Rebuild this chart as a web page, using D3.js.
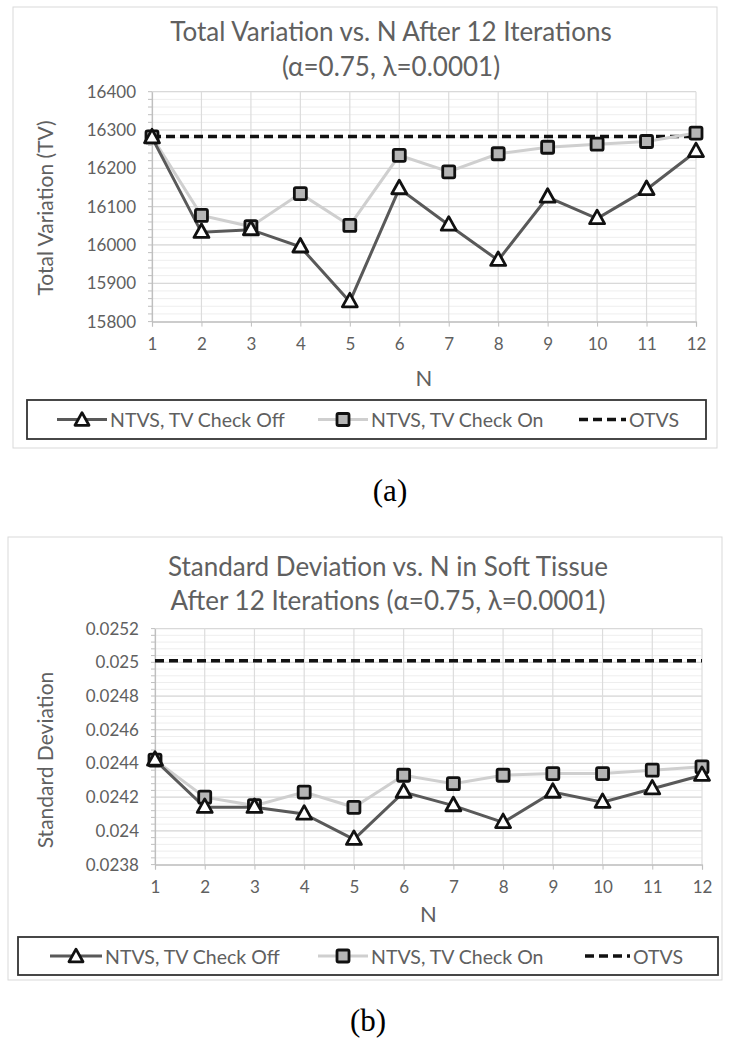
<!DOCTYPE html>
<html><head><meta charset="utf-8">
<script src="https://cdn.jsdelivr.net/npm/d3@7"></script>
<style>body{margin:0;background:#fff}svg{display:block}</style>
</head><body><svg id="c" width="734" height="1050"></svg>
<script>
const nValues = [1,2,3,4,5,6,7,8,9,10,11,12];
const tvCheckOff = [16280,16033,16040,15995,15852,16147,16052,15960,16125,16069,16145,16244];
const tvCheckOn  = [16282,16077,16048,16134,16051,16234,16191,16238,16255,16263,16270,16292];
const tvOTVS = 16283;
const tvTicks = [15800,15900,16000,16100,16200,16300,16400];
const sdCheckOff = [0.02442,0.02414,0.02414,0.02410,0.02395,0.02423,0.02415,0.02405,0.02423,0.02417,0.02425,0.02433];
const sdCheckOn  = [0.02442,0.02420,0.02415,0.02423,0.02414,0.02433,0.02428,0.02433,0.02434,0.02434,0.02436,0.02438];
const sdOTVS = 0.02501;
const sdTicks = [0.0238,0.024,0.0242,0.0244,0.0246,0.0248,0.025,0.0252];
const seriesNames = ["NTVS, TV Check Off","NTVS, TV Check On","OTVS"];

const FONT = "Lato, 'Open Sans', sans-serif";
const TXT = "#606060";
const svg = d3.select("#c");

function triPath(s){ const h=s*0.9; return `M0,${-h*0.62}L${s/2},${h*0.38}L${-s/2},${h*0.38}Z`; }

function drawChart(cfg){
  const g = svg.append("g");
  g.append("rect").attr("x",cfg.frame[0]).attr("y",cfg.frame[1]).attr("width",cfg.frame[2]).attr("height",cfg.frame[3])
    .attr("fill","#fff").attr("stroke","#d9d9d9").attr("stroke-width",1);
  cfg.titles.forEach((t,i)=>{
    g.append("text").attr("x",cfg.titleX).attr("y",cfg.titleY[i]).attr("text-anchor","middle").attr("dominant-baseline","central")
      .attr("font-family",FONT).attr("font-size",cfg.titleSize).attr("fill",TXT).text(t);
  });
  const x = d3.scaleLinear().domain([1,12]).range([cfg.x0,cfg.x1]);
  const y = d3.scaleLinear().domain([cfg.ticks[0],cfg.ticks[cfg.ticks.length-1]]).range([cfg.yb,cfg.yt]);
  const major = cfg.ticks[1]-cfg.ticks[0];
  const minor = d3.range(0,(cfg.ticks.length-1)*5+1).map(i=>cfg.ticks[0]+i*major/5);
  g.append("g").selectAll("line").data(minor).join("line")
    .attr("x1",cfg.x0).attr("x2",cfg.x1).attr("y1",d=>y(d)).attr("y2",d=>y(d))
    .attr("stroke","#eeeeee").attr("stroke-width",1);
  g.append("g").selectAll("line").data(cfg.ticks).join("line")
    .attr("x1",cfg.x0).attr("x2",cfg.x1).attr("y1",d=>y(d)).attr("y2",d=>y(d))
    .attr("stroke","#d9d9d9").attr("stroke-width",1.2);
  g.append("g").selectAll("line").data(nValues).join("line")
    .attr("x1",d=>x(d)).attr("x2",d=>x(d)).attr("y1",cfg.yt).attr("y2",cfg.yb)
    .attr("stroke","#dcdcdc").attr("stroke-width",1.2);
  const la = g.append("g").attr("transform",`translate(${cfg.x0},0)`);
  la.call(d3.axisLeft(y).tickValues(cfg.ticks).tickSize(0).tickPadding(16).tickFormat(d=>String(+d.toFixed(5))));
  la.select(".domain").attr("stroke","#bfbfbf").attr("stroke-width",1.2);
  la.selectAll("text").attr("font-family",FONT).attr("font-size",17).attr("fill",TXT);
  la.append("g").selectAll("line").data(minor).join("line")
    .attr("x1",-4).attr("x2",0).attr("y1",d=>y(d)).attr("y2",d=>y(d)).attr("stroke","#bfbfbf");
  const ba = g.append("g").attr("transform",`translate(0,${cfg.yb})`);
  ba.call(d3.axisBottom(x).tickValues(nValues).tickSize(5).tickPadding(11).tickFormat(d3.format("d")));
  ba.select(".domain").attr("stroke","#bfbfbf").attr("stroke-width",1.2);
  ba.selectAll(".tick line").attr("stroke","#bfbfbf");
  ba.selectAll("text").attr("font-family",FONT).attr("font-size",17).attr("fill",TXT);
  g.append("text").attr("transform",`translate(${cfg.ytX},${cfg.ytY}) rotate(-90)`).attr("text-anchor","middle")
    .attr("dominant-baseline","central").attr("font-family",FONT).attr("font-size",21).attr("fill",TXT).text(cfg.yTitle);
  g.append("text").attr("x",(cfg.x0+cfg.x1)/2).attr("y",cfg.nY).attr("text-anchor","middle").attr("dominant-baseline","central")
    .attr("font-family",FONT).attr("font-size",22).attr("fill",TXT).text("N");
  g.append("line").attr("x1",x(1)).attr("x2",x(12)).attr("y1",y(cfg.otvs)).attr("y2",y(cfg.otvs))
    .attr("stroke","#111").attr("stroke-width",3.5).attr("stroke-dasharray","9,5");
  const line = d3.line().x((d,i)=>x(nValues[i])).y(d=>y(d));
  g.append("path").datum(cfg.on).attr("d",line).attr("fill","none").attr("stroke","#cfcfcf").attr("stroke-width",3);
  g.append("path").datum(cfg.off).attr("d",line).attr("fill","none").attr("stroke","#595959").attr("stroke-width",3);
  g.append("g").selectAll("rect").data(cfg.on).join("rect")
    .attr("x",(d,i)=>x(nValues[i])-6).attr("y",d=>y(d)-6).attr("width",12).attr("height",12).attr("rx",1.5)
    .attr("fill","#b5b5b5").attr("stroke","#111").attr("stroke-width",2.8);
  g.append("g").selectAll("path").data(cfg.off).join("path")
    .attr("transform",(d,i)=>`translate(${x(nValues[i])},${y(d)})`).attr("d",triPath(15))
    .attr("fill","#fff").attr("stroke","#111").attr("stroke-width",2.8).attr("stroke-linejoin","round");
  const L = cfg.legend;
  g.append("rect").attr("x",L.x0).attr("y",L.y0).attr("width",L.x1-L.x0).attr("height",L.y1-L.y0)
    .attr("fill","#fff").attr("stroke","#333").attr("stroke-width",1.8);
  const ly = (L.y0+L.y1)/2;
  const items = L.items;
  g.append("line").attr("x1",items[0][0]).attr("x2",items[0][1]).attr("y1",ly).attr("y2",ly).attr("stroke","#595959").attr("stroke-width",3);
  g.append("path").attr("transform",`translate(${(items[0][0]+items[0][1])/2},${ly+1})`).attr("d",triPath(14))
    .attr("fill","#fff").attr("stroke","#111").attr("stroke-width",2.8).attr("stroke-linejoin","round");
  g.append("line").attr("x1",items[1][0]).attr("x2",items[1][1]).attr("y1",ly).attr("y2",ly).attr("stroke","#cfcfcf").attr("stroke-width",3);
  const mx = (items[1][0]+items[1][1])/2;
  g.append("rect").attr("x",mx-6).attr("y",ly-6).attr("width",12).attr("height",12).attr("rx",1.5)
    .attr("fill","#b5b5b5").attr("stroke","#111").attr("stroke-width",2.8);
  g.append("line").attr("x1",items[2][0]).attr("x2",items[2][1]).attr("y1",ly).attr("y2",ly)
    .attr("stroke","#111").attr("stroke-width",3.5).attr("stroke-dasharray","9,5");
  seriesNames.forEach((s,i)=>{
    g.append("text").attr("x",items[i][1]+3).attr("y",ly).attr("dominant-baseline","central")
      .attr("font-family",FONT).attr("font-size",19.5).attr("fill",TXT).text(s);
  });
  g.append("text").attr("x",cfg.capX).attr("y",cfg.capY).attr("text-anchor","middle").attr("dominant-baseline","central")
    .attr("font-family","'Liberation Serif', 'DejaVu Serif', serif").attr("font-size",31).attr("fill","#000").text(cfg.caption);
}

drawChart({
  frame:[13,7,704,441], titleX:391, titleY:[31,66], titleSize:26,
  titles:["Total Variation vs. N After 12 Iterations","(\u03b1=0.75, \u03bb=0.0001)"],
  x0:152, x1:696, yt:91.7, yb:321.6, ticks:tvTicks,
  off:tvCheckOff, on:tvCheckOn, otvs:tvOTVS,
  yTitle:"Total Variation (TV)", ytX:44, ytY:208, nY:377,
  legend:{x0:27,x1:706,y0:400,y1:439, items:[[57,107],[318,368],[579,626]]},
  caption:"(a)", capX:390, capY:490
});
drawChart({
  frame:[8,537,714,443], titleX:388, titleY:[566,600], titleSize:26,
  titles:["Standard Deviation vs. N in Soft Tissue","After 12 Iterations (\u03b1=0.75, \u03bb=0.0001)"],
  x0:155, x1:702, yt:628.6, yb:864.6, ticks:sdTicks,
  off:sdCheckOff, on:sdCheckOn, otvs:sdOTVS,
  yTitle:"Standard Deviation", ytX:44, ytY:760, nY:913,
  legend:{x0:18,x1:718,y0:937,y1:975, items:[[50,102],[318,368],[585,630]]},
  caption:"(b)", capX:368, capY:1020
});
</script></body></html>
